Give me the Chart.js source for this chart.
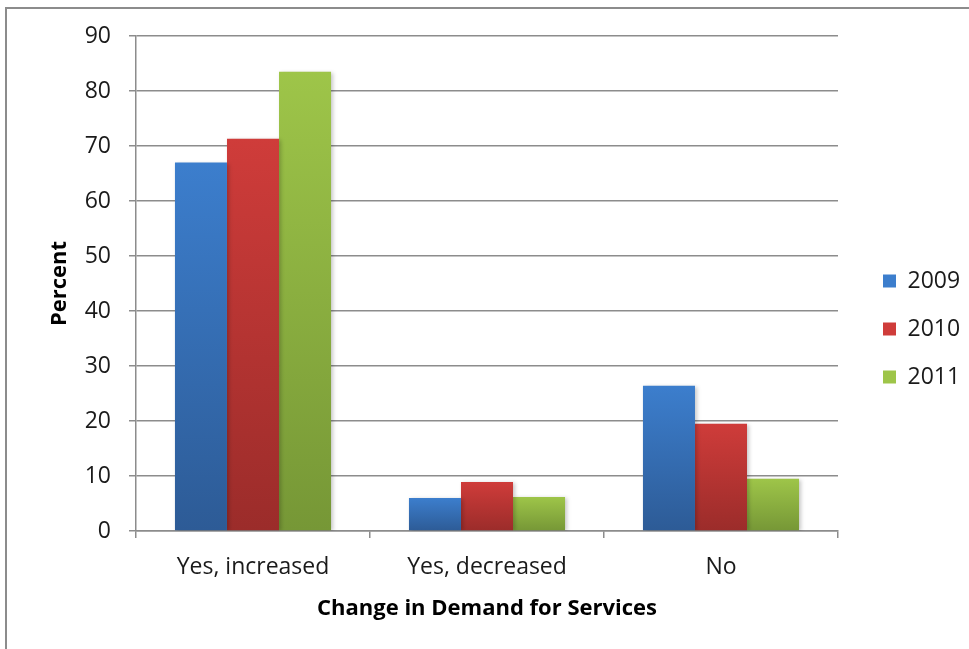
<!DOCTYPE html>
<html>
<head>
<meta charset="utf-8">
<script src="https://cdn.jsdelivr.net/npm/chart.js@4.4.1/dist/chart.umd.min.js"></script>
<style>
  html, body { margin: 0; padding: 0; background: #fff; }
  body { width: 969px; height: 649px; position: relative; overflow: hidden; }
  #frame { position: absolute; left: 5px; top: 7px; width: 990px; height: 700px;
           border: 2px solid #8c8c8c; box-sizing: border-box; }
  #wrap { position: absolute; left: 0; top: 0; width: 969px; height: 649px; }
</style>
</head>
<body>
<div id="frame"></div>
<div id="wrap"><canvas id="c" width="969" height="649"></canvas></div>
<script>
// Survey responses: change in demand for services, by year (percent)
const categories = ['Yes, increased', 'Yes, decreased', 'No'];
const years = ['2009', '2010', '2011'];
const values2009 = [67.0, 6.0, 26.4];
const values2010 = [71.3, 8.9, 19.5];
const values2011 = [83.5, 6.2, 9.5];
const yTicks = [0, 10, 20, 30, 40, 50, 60, 70, 80, 90];

// top / bottom shades for each series gradient
const shades = [
  ['#3c7ecd', '#2d5b96'],
  ['#cf3c3a', '#9b2c2a'],
  ['#9ec549', '#769736']
];

const FONT = '"Open Sans", Lato, sans-serif';
const TEXT = '#1a1a1a';

function barGradient(idx) {
  return function (ctx) {
    const chart = ctx.chart;
    const y = chart.scales && chart.scales.y;
    if (!chart.chartArea || !y || ctx.parsed == null) return shades[idx][0];
    const top = y.getPixelForValue(ctx.parsed.y);
    const base = y.getPixelForValue(0);
    const g = chart.ctx.createLinearGradient(0, top, 0, base);
    g.addColorStop(0, shades[idx][0]);
    g.addColorStop(1, shades[idx][1]);
    return g;
  };
}

const seriesValues = [values2009, values2010, values2011];
const datasets = years.map((yr, i) => ({
  label: yr,
  data: seriesValues[i],
  backgroundColor: barGradient(i),
  borderWidth: 0,
  categoryPercentage: 0.667,
  barPercentage: 1.0
}));

// soft drop shadow under the bars
const barShadow = {
  id: 'barShadow',
  beforeDatasetsDraw(chart) {
    const c = chart.ctx;
    c.save();
    c.shadowColor = 'rgba(0,0,0,0.22)';
    c.shadowBlur = 4;
    c.shadowOffsetX = 2;
    c.shadowOffsetY = 1;
  },
  afterDatasetsDraw(chart) { chart.ctx.restore(); }
};

new Chart(document.getElementById('c'), {
  type: 'bar',
  data: { labels: categories, datasets },
  plugins: [barShadow],
  options: {
    responsive: false,
    animation: false,
    layout: { padding: { left: 47, top: 36, right: 0, bottom: 27 } },
    plugins: {
      tooltip: { enabled: false },
      legend: {
        position: 'right',
        maxWidth: 111,
        labels: {
          font: { family: FONT, size: 23 },
          color: TEXT,
          boxWidth: 13,
          boxHeight: 13,
          padding: 25,
          generateLabels(chart) {
            return chart.data.datasets.map((d, i) => ({
              text: d.label,
              fillStyle: shades[i][0],
              strokeStyle: shades[i][1],
              lineWidth: 0,
              datasetIndex: i,
              fontColor: TEXT
            }));
          }
        }
      }
    },
    scales: {
      x: {
        offset: true,
        afterFit(scale) { scale.height = 91; },
        grid: { display: true, offset: true, drawOnChartArea: false, drawTicks: true,
                tickLength: 7, color: '#8c8c8c', lineWidth: 1.5 },
        border: { display: true, color: '#8c8c8c', width: 1.5 },
        ticks: { font: { family: FONT, size: 23 }, color: TEXT, padding: 16 },
        title: { display: true, text: 'Change in Demand for Services',
                 font: { family: FONT, size: 22, weight: 'bold' }, color: '#000',
                 padding: { top: 0, bottom: 0 } }
      },
      y: {
        min: 0, max: 90,
        afterBuildTicks(scale) { scale.ticks = yTicks.map(v => ({ value: v })); },
        afterFit(scale) { scale.width = 89; },
        grid: { color: '#8c8c8c', lineWidth: 1.5, tickLength: 7 },
        border: { display: true, color: '#8c8c8c', width: 1.5 },
        ticks: { font: { family: FONT, size: 23 }, color: TEXT, padding: 18 },
        title: { display: true, text: 'Percent',
                 font: { family: FONT, size: 22, weight: 'bold' }, color: '#000',
                 padding: { top: 0, bottom: 10 } }
      },
      // empty spacer between the plot and the legend
      spacer: {
        type: 'linear',
        position: 'right',
        display: true,
        grid: { display: false },
        border: { display: false },
        ticks: { display: false },
        afterFit(scale) { scale.width = 20; }
      }
    }
  }
});
</script>
</body>
</html>
